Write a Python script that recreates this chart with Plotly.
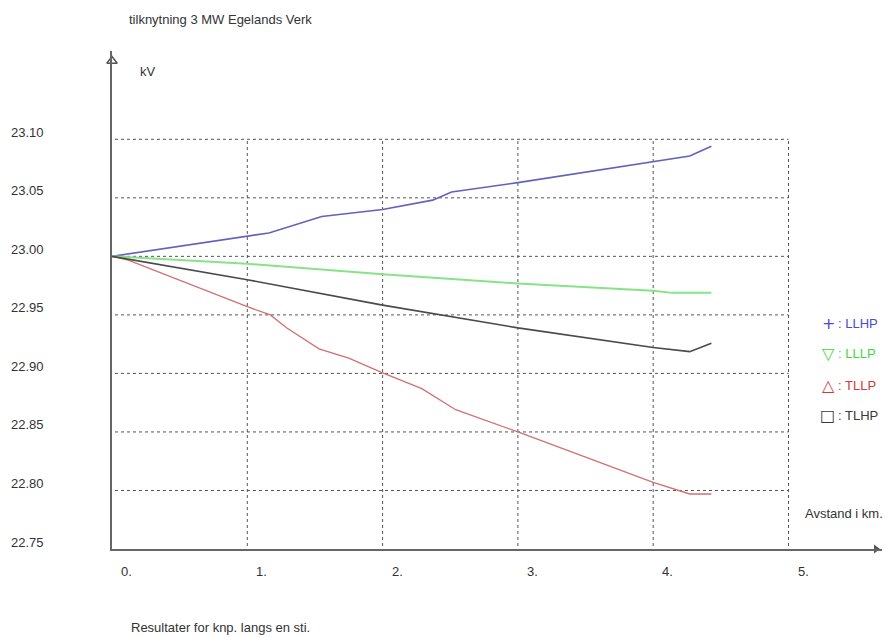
import plotly.graph_objects as go

# ---------------- data ----------------
x_llhp = [0, 1.0, 1.16, 1.55, 2.0, 2.37, 2.51, 3.0, 4.0, 4.27, 4.43]
y_llhp = [23.000, 23.0175, 23.020, 23.034, 23.040, 23.048, 23.055, 23.063, 23.081, 23.0857, 23.094]

x_lllp = [0, 1.0, 2.0, 3.0, 4.0, 4.14, 4.43]
y_lllp = [23.000, 22.9936, 22.9847, 22.9768, 22.9707, 22.9688, 22.9688]

x_tllp = [0, 0.12, 1.0, 1.17, 1.29, 1.53, 1.75, 2.0, 2.29, 2.54, 3.0, 4.0, 4.27, 4.43]
y_tllp = [23.000, 22.9968, 22.957, 22.950, 22.939, 22.921, 22.913, 22.9005, 22.887, 22.869, 22.850, 22.807, 22.797, 22.797]

x_tlhp = [0, 1.0, 2.0, 2.43, 3.0, 4.0, 4.27, 4.43]
y_tlhp = [23.000, 22.9800, 22.9583, 22.950, 22.9389, 22.9222, 22.9186, 22.9258]

x_ticks = [0, 1, 2, 3, 4, 5]
x_tick_labels = ["0.", "1.", "2.", "3.", "4.", "5."]
y_ticks = [22.75, 22.80, 22.85, 22.90, 22.95, 23.00, 23.05, 23.10]
y_tick_labels = ["22.75", "22.80", "22.85", "22.90", "22.95", "23.00", "23.05", "23.10"]

series_names = ["LLHP", "LLLP", "TLLP", "TLHP"]
series_symbols = ["+", "\u25bd", "\u25b3", "\u25a1"]
line_colors = ["#6262be", "#86e486", "#d27070", "#4a4a4a"]
text_colors = ["#4a4ad0", "#3fd83f", "#d03a3a", "#3a3a3a"]

title_text = "tilknytning 3 MW Egelands Verk"
y_unit = "kV"
x_unit = "Avstand i km."
footer = "Resultater for knp. langs en sti."

# ---------------- layout geometry ----------------
W, H = 884, 637
L, R, T, B = 112, 2, 51, 88
plot_w = W - L - R
plot_h = H - T - B
px_per_km = 135.3
px_per_kv = 1170.6
x_max = plot_w / px_per_km
y_min = 22.75
y_max = y_min + plot_h / px_per_kv


def pxx(p):
    return (p - L) / plot_w


def pxy(p):
    return (H - B - p) / plot_h


FONT = "Liberation Sans, Arial, sans-serif"
FS = 13
fig = go.Figure()

xs = [x_llhp, x_lllp, x_tllp, x_tlhp]
ys = [y_llhp, y_lllp, y_tllp, y_tlhp]
widths = [1.6, 2.0, 1.3, 1.6]
for xv, yv, nm, col, w in zip(xs, ys, series_names, line_colors, widths):
    fig.add_trace(go.Scatter(x=xv, y=yv, mode="lines", name=nm,
                             line=dict(color=col, width=w), hoverinfo="skip"))

# axis arrowheads
fig.add_trace(go.Scatter(x=[0], y=[y_max - 10 / px_per_kv], mode="markers",
                         marker=dict(symbol="triangle-up-open", size=9, color="#555",
                                     line=dict(width=1.5, color="#555")),
                         cliponaxis=False, hoverinfo="skip", showlegend=False))
fig.add_trace(go.Scatter(x=[x_max - 6 / px_per_km], y=[y_min], mode="markers",
                         marker=dict(symbol="triangle-right", size=8, color="#555"),
                         cliponaxis=False, hoverinfo="skip", showlegend=False))

shapes = []
for xv in x_ticks[1:]:
    shapes.append(dict(type="line", xref="x", yref="y", x0=xv, x1=xv,
                       y0=y_min - 3 / px_per_kv, y1=y_ticks[-1],
                       line=dict(color="#555", width=1, dash="dot"), layer="below"))
for yv in y_ticks[1:]:
    shapes.append(dict(type="line", xref="x", yref="y", x0=-3 / px_per_km, x1=x_ticks[-1],
                       y0=yv, y1=yv,
                       line=dict(color="#555", width=1, dash="dot"), layer="below"))
shapes.append(dict(type="line", xref="x", yref="y", x0=-4 / px_per_km, x1=0,
                   y0=y_min, y1=y_min, line=dict(color="#555", width=1)))

annotations = []
for yv, lab in zip(y_ticks, y_tick_labels):
    annotations.append(dict(x=0, y=yv, xref="x", yref="y", text=lab, showarrow=False,
                            xanchor="right", yanchor="middle", xshift=-66, yshift=7,
                            font=dict(size=FS, color="#333", family=FONT)))
for xv, lab in zip(x_ticks, x_tick_labels):
    annotations.append(dict(x=xv, y=y_min, xref="x", yref="y", text=lab, showarrow=False,
                            xanchor="left", yanchor="middle", xshift=7, yshift=-22,
                            font=dict(size=FS, color="#333", family=FONT)))

for txt, xp, yp in [(title_text, 127, 20), (y_unit, 138, 72),
                    (x_unit, 803, 513), (footer, 129, 627)]:
    annotations.append(dict(x=pxx(xp), y=pxy(yp), xref="paper", yref="paper", text=txt,
                            showarrow=False, xanchor="left", yanchor="middle",
                            font=dict(size=FS, color="#333", family=FONT)))

legend_y = [324, 353, 385, 415]
for sym, nm, col, ly in zip(series_symbols, series_names, text_colors, legend_y):
    annotations.append(dict(x=pxx(837), y=pxy(ly), xref="paper", yref="paper", text=sym,
                            showarrow=False, xanchor="right", yanchor="middle",
                            font=dict(size=16, color=col, family="DejaVu Sans, sans-serif")))
    annotations.append(dict(x=pxx(836), y=pxy(ly), xref="paper", yref="paper",
                            text=": " + nm, showarrow=False, xanchor="left", yanchor="middle",
                            font=dict(size=FS, color=col, family=FONT)))

fig.update_layout(
    width=W, height=H,
    margin=dict(l=L, r=R, t=T, b=B),
    paper_bgcolor="white", plot_bgcolor="white",
    showlegend=False,
    shapes=shapes, annotations=annotations,
    xaxis=dict(range=[0, x_max], showgrid=False, zeroline=False, showticklabels=False,
               ticks="", showline=True, linecolor="#666", linewidth=2, fixedrange=True),
    yaxis=dict(range=[y_min, y_max], showgrid=False, zeroline=False, showticklabels=False,
               ticks="", showline=True, linecolor="#666", linewidth=2, fixedrange=True),
    font=dict(family=FONT),
)

fig.write_html("out.html", config={"displayModeBar": False},
               post_script="document.body.style.margin='0';"
                           "document.documentElement.style.overflow='hidden';"
                           "document.body.style.overflow='hidden';")
